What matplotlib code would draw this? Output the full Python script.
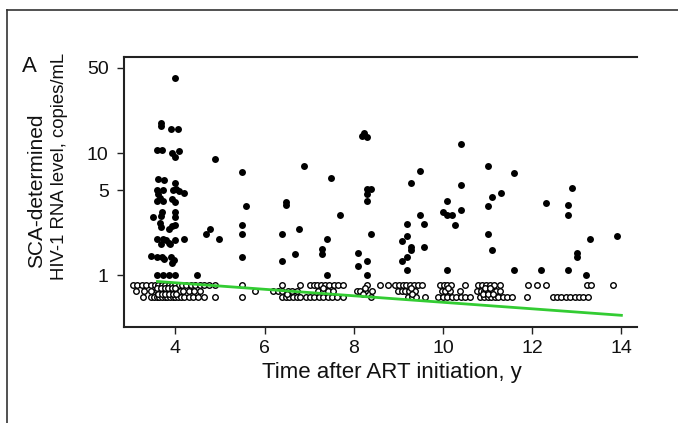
import matplotlib
matplotlib.use("Agg")
import matplotlib.pyplot as plt
from matplotlib.lines import Line2D

plt.rcParams['font.family'] = ['Liberation Sans', 'DejaVu Sans']

# ---------------- data ----------------
# detectable (filled) measurements: time (y), copies/mL
filled_x = [4.00, 3.68, 3.69, 3.90, 4.06, 3.58, 3.70, 3.92, 4.00, 4.09,
            3.62, 3.75, 4.00, 3.60, 3.72, 3.95, 4.02, 4.08, 4.20, 3.62,
            3.60, 3.72, 3.93, 4.00, 3.66, 3.70, 4.00, 3.49, 3.68, 4.00,
            3.65, 3.68, 3.92, 4.00, 3.86, 3.60, 3.72, 3.86, 4.00, 4.20,
            3.80, 3.68, 3.88, 3.45, 3.60, 3.70, 3.75, 3.90, 3.93, 3.98,
            3.60, 3.72, 3.85, 4.00, 4.49,
            4.89, 5.49, 6.89, 5.59, 6.48, 6.48, 4.77, 4.69, 4.99, 5.49,
            5.49, 5.49, 6.39, 6.78, 6.68, 6.39,
            7.49, 7.69, 7.39, 7.28, 7.28, 7.39,
            8.18, 8.24, 8.29, 8.29, 8.29, 8.29, 8.39, 8.39, 8.09, 8.09,
            8.29, 8.29,
            9.09, 9.19, 9.19, 9.09, 9.19, 9.19, 9.28, 9.28, 9.28, 9.49,
            9.49, 9.58, 9.58,
            10.00, 10.10, 10.10, 10.20, 10.27, 10.10, 10.40, 10.40, 10.40,
            11.00, 11.00, 11.10, 11.30, 11.00, 11.10, 11.60, 11.60,
            12.20, 12.30, 12.80, 12.80, 12.80, 12.90, 13.00, 13.00, 13.20,
            13.30, 13.90]
filled_y = [41.6, 17.8, 16.8, 15.8, 15.8, 10.6, 10.7, 10.0, 9.4, 10.4,
            6.1, 6.0, 5.7, 5.0, 5.0, 5.0, 5.1, 4.9, 4.7, 4.6,
            4.1, 4.1, 4.2, 4.0, 4.3, 3.3, 3.3, 3.0, 3.05, 3.0,
            2.7, 2.5, 2.55, 2.6, 2.4, 2.0, 2.0, 1.85, 1.95, 2.0,
            1.95, 1.8, 1.8, 1.45, 1.42, 1.42, 1.35, 1.42, 1.25, 1.33,
            1.0, 1.0, 1.0, 1.0, 1.0,
            8.9, 7.0, 7.9, 3.7, 4.0, 3.8, 2.4, 2.2, 2.0, 2.6,
            2.2, 1.4, 2.2, 2.4, 1.5, 1.3,
            6.3, 3.1, 2.0, 1.63, 1.5, 1.0,
            13.9, 14.6, 13.5, 4.6, 4.1, 5.1, 2.2, 5.1, 1.51, 1.2,
            1.31, 1.0,
            1.91, 2.11, 2.62, 1.31, 1.40, 1.1, 5.7, 1.71, 1.61, 7.2,
            3.1, 2.62, 1.71,
            3.3, 4.1, 3.1, 3.1, 2.6, 1.1, 11.9, 5.5, 3.4,
            7.9, 3.7, 4.4, 4.7, 2.2, 1.61, 6.9, 1.1,
            1.1, 3.9, 3.8, 3.1, 1.1, 5.2, 1.51, 1.40, 1.0,
            2.0, 2.1]

# below limit of detection (open circles), display rows
open_row1_y = 0.84
open_row1_x = [3.05, 3.15, 3.25, 3.35, 3.45, 3.55, 3.62, 3.70, 3.78, 3.85,
               3.92, 4.00, 4.08, 4.15, 4.25, 4.35, 4.45, 4.55, 4.65, 4.75,
               4.88, 5.49, 6.39, 6.80, 7.02, 7.10, 7.18, 7.27, 7.35, 7.45,
               7.55, 7.65, 7.76, 8.29, 8.59, 8.77, 8.93, 9.02, 9.10, 9.18,
               9.26, 9.35, 9.44, 9.52, 9.93, 10.02, 10.10, 10.18, 10.50,
               10.79, 10.88, 10.97, 11.06, 11.15, 11.28, 11.90, 12.10,
               12.30, 13.22, 13.32, 13.82]
open_row2_y = 0.74
open_row2_x = [3.12, 3.30, 3.45, 3.58, 3.65, 3.72, 3.80, 3.88, 3.95, 4.02,
               4.10, 4.18, 4.30, 4.42, 4.55, 5.79, 6.20, 6.30, 6.40, 6.52,
               6.62, 6.73, 7.20, 7.30, 7.42, 7.54, 8.07, 8.15, 8.25, 8.40,
               9.00, 9.08, 9.16, 9.25, 9.37, 9.97, 10.05, 10.15, 10.38,
               10.76, 10.85, 10.93, 11.02, 11.10, 11.20, 11.28]
open_row3_y = 0.66
open_row3_x = [3.28, 3.45, 3.52, 3.58, 3.64, 3.70, 3.76, 3.82, 3.88, 3.94,
               4.00, 4.06, 4.12, 4.20, 4.30, 4.40, 4.52, 4.64, 4.89, 5.49,
               6.40, 6.48, 6.56, 6.64, 6.72, 6.80, 6.92, 7.02, 7.12, 7.22,
               7.32, 7.42, 7.52, 7.62, 7.76, 8.39, 9.22, 9.30, 9.40, 9.60,
               9.90, 10.00, 10.10, 10.20, 10.30, 10.40, 10.50, 10.60,
               10.83, 10.92, 11.00, 11.08, 11.16, 11.24, 11.34, 11.44,
               11.54, 11.88, 12.47, 12.55, 12.65, 12.75, 12.85, 12.95,
               13.05, 13.15, 13.25]
open_row4_y = 0.79
open_row4_x = [3.60, 3.68, 3.76, 3.84, 3.92, 4.00, 7.30, 8.25, 9.28, 10.12,
               10.95, 11.05]
open_row5_y = 0.70
open_row5_x = [3.62, 3.70, 3.78, 3.86, 3.94, 4.02, 6.50, 8.20, 9.30, 10.90,
               11.00, 11.12]

# fitted decay line (straight on log scale)
fit_x = [3.6, 14.0]
fit_y = [0.89, 0.47]

xticks = [4, 6, 8, 10, 12, 14]
yticks = [1, 5, 10, 50]
ytick_labels = ['1', '5', '10', '50']

# ---------------- figure ----------------
W, H = 678, 423
fig = plt.figure(figsize=(W / 100, H / 100), dpi=100)

# outer frame (top and left edges)
fig.add_artist(Line2D([7 / W, 7 / W], [0, 1 - 10 / H], transform=fig.transFigure,
                      color='#333333', lw=1.2))
fig.add_artist(Line2D([7 / W, 1], [1 - 10 / H, 1 - 10 / H], transform=fig.transFigure,
                      color='#333333', lw=1.2))

ax = fig.add_axes([124 / W, 1 - 327 / H, (637 - 124) / W, (327 - 57) / H])
ax.set_yscale('log')
ax.set_xlim(2.85, 14.35)
ax.set_ylim(0.377, 61.5)

open_style = dict(marker='o', linestyle='none', ms=4.0, mfc='white',
                  mec='black', mew=1.0, zorder=2)
for xs, yv in [(open_row1_x, open_row1_y), (open_row2_x, open_row2_y),
               (open_row3_x, open_row3_y), (open_row4_x, open_row4_y),
               (open_row5_x, open_row5_y)]:
    ax.plot(xs, [yv] * len(xs), **open_style)
ax.plot(filled_x, filled_y, 'o', ms=5.0, mfc='black', mec='black', mew=0, zorder=3)
ax.plot(fit_x, fit_y, '-', color='#33cc33', lw=2.0, zorder=4)

ax.spines['right'].set_visible(False)
for s in ['left', 'top', 'bottom']:
    ax.spines[s].set_linewidth(1.5)
    ax.spines[s].set_color('#222222')

ax.set_xticks(xticks)
ax.set_yticks(yticks)
ax.set_yticklabels(ytick_labels)
ax.yaxis.set_minor_locator(matplotlib.ticker.NullLocator())
ax.tick_params(direction='out', length=5, width=1, labelsize=14,
               colors='#222222', labelcolor='#111111')
ax.tick_params(axis='y', pad=6)
ax.tick_params(axis='x', pad=4)

fig.text(392 / W, 1 - 372 / H, 'Time after ART initiation, y', ha='center',
         va='center', fontsize=16, color='#111111')
fig.text(36.5 / W, 1 - 191 / H, 'SCA-determined', rotation=90, ha='center',
         va='center', fontsize=15, color='#111111')
fig.text(59 / W, 1 - 166 / H, 'HIV-1 RNA level, copies/mL', rotation=90,
         ha='center', va='center', fontsize=13.3, color='#111111')
fig.text(29.5 / W, 1 - 67 / H, 'A', ha='center', va='center', fontsize=16,
         color='#111111')

fig.savefig('out.png', dpi=100, facecolor='white')
